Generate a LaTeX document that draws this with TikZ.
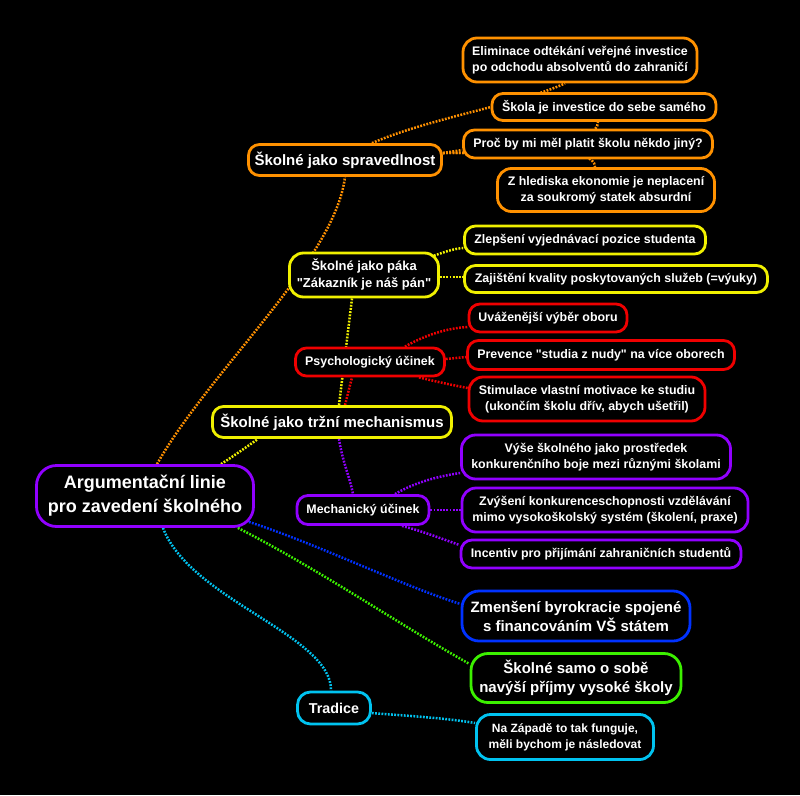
\documentclass[tikz,border=0pt]{standalone}
\usepackage{fontspec}
\setmainfont{Liberation Sans}[Ligatures=TeXOff]
\pgfdeclarelayer{back}
\pgfdeclarelayer{edges}
\pgfsetlayers{back,edges,main}
\definecolor{cOr}{RGB}{255,145,0}
\definecolor{cYe}{RGB}{240,240,0}
\definecolor{cRe}{RGB}{240,0,0}
\definecolor{cPu}{RGB}{145,0,255}
\definecolor{cBl}{RGB}{0,50,255}
\definecolor{cGr}{RGB}{60,240,0}
\definecolor{cCy}{RGB}{0,195,240}
\tikzset{
  mbox/.style={draw, fill=black, line width=2.8pt, rounded corners=11pt, text=white,
    align=center, inner sep=0pt, font=\bfseries\fontsize{12.4}{15.5}\selectfont},
  twoline/.style={rounded corners=14pt},
  midfont/.style={font=\bfseries\fontsize{15}{19}\selectfont},
  conn/.style={line width=2.5pt, dash pattern=on 1.8pt off 1.4pt},
}
\begin{document}
\begin{tikzpicture}[x=1pt,y=-1pt]
\begin{pgfonlayer}{back}
\fill[black] (0,0) rectangle (800,795);
\end{pgfonlayer}
% root
\node[mbox, draw=cPu, rounded corners=20pt, minimum width=217pt, minimum height=61pt,
  font=\bfseries\fontsize{18}{24}\selectfont] (root) at (145,496) {Argumentační linie\\pro zavedení školného};
% orange
\node[mbox, draw=cOr, midfont, minimum width=193pt, minimum height=31pt] (sprav) at (345,160) {Školné jako spravedlnost};
\node[mbox, draw=cOr, twoline, minimum width=234pt, minimum height=44pt] (elim) at (580,60) {Eliminace odtékání veřejné investice\\po odchodu absolventů do zahraničí};
\node[mbox, draw=cOr, minimum width=224pt, minimum height=27pt] (skola) at (604,107) {Škola je investice do sebe samého};
\node[mbox, draw=cOr, minimum width=249pt, minimum height=28pt] (proc) at (588,144) {Proč by mi měl platit školu někdo jiný?};
\node[mbox, draw=cOr, twoline, minimum width=217pt, minimum height=43pt] (zhl) at (606,190) {Z hlediska ekonomie je neplacení\\za soukromý statek absurdní};
% yellow
\node[mbox, draw=cYe, twoline, minimum width=149pt, minimum height=44pt,
  font=\bfseries\fontsize{13}{17}\selectfont] (paka) at (364,275) {Školné jako páka\\"Zákazník je náš pán"};
\node[mbox, draw=cYe, minimum width=241pt, minimum height=28pt] (zlep) at (585,240) {Zlepšení vyjednávací pozice studenta};
\node[mbox, draw=cYe, minimum width=303pt, minimum height=27pt] (zaj) at (616,279) {Zajištění kvality poskytovaných služeb (=výuky)};
\node[mbox, draw=cYe, midfont, minimum width=239pt, minimum height=31pt] (trzni) at (332,422) {Školné jako tržní mechanismus};
% red
\node[mbox, draw=cRe, minimum width=149pt, minimum height=28pt] (psych) at (370,362) {Psychologický účinek};
\node[mbox, draw=cRe, minimum width=158pt, minimum height=28pt] (uvaz) at (548,318) {Uváženější výběr oboru};
\node[mbox, draw=cRe, minimum width=267pt, minimum height=29pt] (prev) at (601,355) {Prevence "studia z nudy" na více oborech};
\node[mbox, draw=cRe, twoline, minimum width=236pt, minimum height=44pt] (stim) at (587,399) {Stimulace vlastní motivace ke studiu\\(ukončím školu dřív, abych ušetřil)};
% purple
\node[mbox, draw=cPu, minimum width=132pt, minimum height=29pt] (mech) at (363,510) {Mechanický účinek};
\node[mbox, draw=cPu, twoline, minimum width=269pt, minimum height=44pt] (vyse) at (596,457) {Výše školného jako prostředek\\konkurenčního boje mezi různými školami};
\node[mbox, draw=cPu, twoline, minimum width=286pt, minimum height=44pt] (zvys) at (605,510) {Zvýšení konkurenceschopnosti vzdělávání\\mimo vysokoškolský systém (školení, praxe)};
\node[mbox, draw=cPu, minimum width=280pt, minimum height=28pt] (inc) at (601,554) {Incentiv pro přijímání zahraničních studentů};
% blue, green
\node[mbox, draw=cBl, twoline, midfont, rounded corners=17pt, minimum width=228pt, minimum height=50pt] (byro) at (576,616) {Zmenšení byrokracie spojené\\s financováním VŠ státem};
\node[mbox, draw=cGr, twoline, midfont, rounded corners=17pt, minimum width=210pt, minimum height=49pt] (samo) at (576,678) {Školné samo o sobě\\navýší příjmy vysoké školy};
% cyan
\node[mbox, draw=cCy, rounded corners=13pt, font=\bfseries\fontsize{14.3}{18}\selectfont, minimum width=73pt, minimum height=32pt] (trad) at (334,708) {Tradice};
\node[mbox, draw=cCy, twoline, font=\bfseries\fontsize{12}{16}\selectfont, minimum width=177pt, minimum height=45pt] (naz) at (565,737) {Na Západě to tak funguje,\\měli bychom je následovat};

\begin{pgfonlayer}{edges}
% orange
\draw[conn, cOr] ([xshift=12pt]root.north) .. controls (210,370) and (335,260) .. (sprav.south);
\draw[conn, cOr] ([xshift=27pt]sprav.north) .. controls (430,118) and (520,104) .. ([xshift=-15pt]elim.south);
\draw[conn, cOr] ([shift={(0,-7)}]sprav.east) .. controls (520,153) and (598,145) .. ([xshift=-6pt]skola.south);
\draw[conn, cOr] ([shift={(0,-7)}]sprav.east) -- ([shift={(0,6)}]proc.west);
\draw[conn, cOr] ([shift={(0,-7)}]sprav.east) .. controls (520,153) and (595,145) .. ([xshift=-11pt]zhl.north);
% yellow
\draw[conn, cYe] ([xshift=76pt]root.north) .. controls (235,455) and (248,446) .. ([xshift=-74pt]trzni.south);
\draw[conn, cYe] ([xshift=7pt]trzni.north) -- ([xshift=-12pt]paka.south);
\draw[conn, cYe] ([shift={(-6,4)}]paka.north east) .. controls (445,252) and (452,249) .. ([shift={(0,8)}]zlep.west);
\draw[conn, cYe] ([shift={(0,2)}]paka.east) -- ([shift={(0,-2)}]zaj.west);
% red
\draw[conn, cRe] ([xshift=13pt]trzni.north) -- ([xshift=-18pt]psych.south);
\draw[conn, cRe] ([xshift=35pt]psych.north) .. controls (425,335) and (448,328) .. ([shift={(0,9)}]uvaz.west);
\draw[conn, cRe] ([shift={(0,-3)}]psych.east) -- ([shift={(0,2)}]prev.west);
\draw[conn, cRe] ([xshift=49pt]psych.south) .. controls (438,382) and (452,385) .. ([shift={(0,-11)}]stim.west);
% purple
\draw[conn, cPu] ([xshift=7pt]trzni.south) .. controls (342,460) and (350,478) .. ([xshift=-10pt]mech.north);
\draw[conn, cPu] ([xshift=32pt]mech.north) .. controls (415,482) and (440,476) .. ([shift={(0,16)}]vyse.west);
\draw[conn, cPu] (mech.east) -- (zvys.west);
\draw[conn, cPu] ([xshift=39pt]mech.south) .. controls (425,532) and (445,540) .. ([shift={(0,-9)}]inc.west);
% blue, green
\draw[conn, cBl] ([shift={(-6,-6)}]root.south east) .. controls (320,545) and (400,585) .. ([shift={(0,-12)}]byro.west);
\draw[conn, cGr] ([shift={(-17,0)}]root.south east) .. controls (320,570) and (400,625) .. ([shift={(0,-14)}]samo.west);
% cyan
\draw[conn, cCy] ([xshift=18pt]root.south) .. controls (190,600) and (332,635) .. ([xshift=-3pt]trad.north);
\draw[conn, cCy] ([shift={(0,5)}]trad.east) .. controls (410,716) and (445,718) .. ([shift={(0,-14)}]naz.west);
\end{pgfonlayer}
\end{tikzpicture}
\end{document}
